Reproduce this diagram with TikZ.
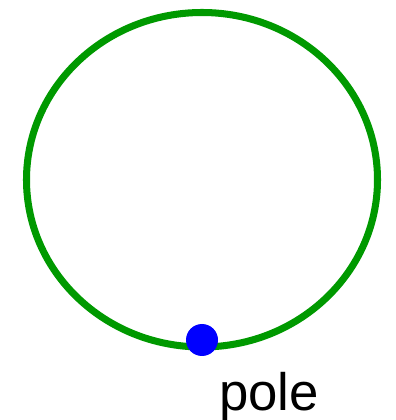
\documentclass[tikz,border=0pt]{standalone}
\usepackage{fontspec}
\setmainfont{Liberation Sans}
\usetikzlibrary{positioning}
\begin{document}
\begin{tikzpicture}[ring/.style={draw=green!60!black,line width=4pt}, dot/.style={circle,fill=blue,minimum size=6.4mm,inner sep=0pt}, lab/.style={font=\fontsize{30}{36}\selectfont,inner sep=0pt,anchor=base west}]
\useasboundingbox (0,0) rectangle (7.92,8.4);
\coordinate (centre) at (4.04,4.805);
\draw[ring] (centre) ellipse [x radius=3.51cm,y radius=3.345cm];
\node[dot] (pole) at (4.04,1.6) {};
\node[lab] (polelab) at (4.38,0.2) {pole};
\end{tikzpicture}
\end{document}
